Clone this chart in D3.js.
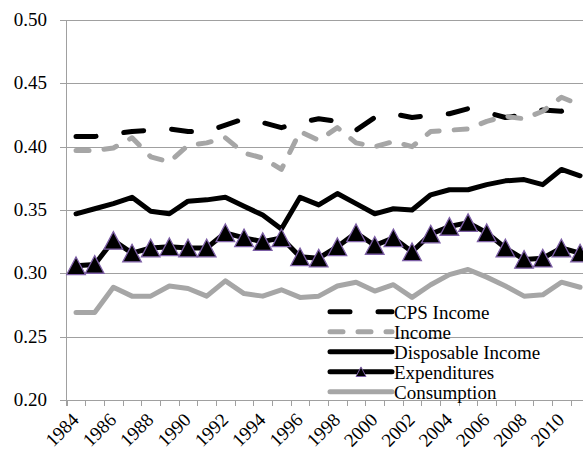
<!DOCTYPE html>
<html>
<head>
<meta charset="utf-8">
<script src="https://cdn.jsdelivr.net/npm/d3@7"></script>
<style>
  html, body { margin: 0; padding: 0; background: #fff; }
  svg { display: block; }
</style>
</head>
<body>
<svg id="chart" width="583" height="453" font-family="'Liberation Serif', 'DejaVu Serif', serif"></svg>
<script>
// Inequality measures by year
const years = d3.range(1984, 2012);
const yTicks = [0.20, 0.25, 0.30, 0.35, 0.40, 0.45, 0.50];
const xLabelYears = d3.range(1984, 2011, 2);

const cpsIncome = [0.408, 0.408, 0.410, 0.412, 0.413, 0.414, 0.412, 0.412, 0.417, 0.422, 0.419, 0.415, 0.419, 0.422, 0.420, 0.413,
                   0.423, 0.426, 0.423, 0.425, 0.426, 0.430, 0.427, 0.423, 0.425, 0.429, 0.428, 0.434];
const income = [0.397, 0.397, 0.399, 0.407, 0.392, 0.388, 0.401, 0.403, 0.407, 0.395, 0.391, 0.382, 0.412, 0.405, 0.415, 0.403,
                0.400, 0.404, 0.400, 0.412, 0.413, 0.414, 0.420, 0.424, 0.422, 0.428, 0.439, 0.433];
const disposableIncome = [0.347, 0.351, 0.355, 0.360, 0.349, 0.347, 0.357, 0.358, 0.360, 0.353, 0.346, 0.335, 0.360, 0.354, 0.363, 0.355,
                          0.347, 0.351, 0.350, 0.362, 0.366, 0.366, 0.370, 0.373, 0.374, 0.370, 0.382, 0.377];
const expenditures = [0.306, 0.307, 0.326, 0.316, 0.320, 0.321, 0.320, 0.320, 0.332, 0.328, 0.325, 0.328, 0.313, 0.312, 0.321, 0.332,
                      0.322, 0.328, 0.317, 0.331, 0.337, 0.340, 0.332, 0.320, 0.311, 0.312, 0.320, 0.316];
const consumption = [0.269, 0.269, 0.289, 0.282, 0.282, 0.290, 0.288, 0.282, 0.294, 0.284, 0.282, 0.287, 0.281, 0.282, 0.290, 0.293,
                     0.286, 0.291, 0.281, 0.291, 0.299, 0.303, 0.297, 0.290, 0.282, 0.283, 0.293, 0.289];

const GRAY = "#a6a6a6";
const GRID = "#a0a0a0";
const PURPLE = "#7d5fa6";
const FONT = "'Liberation Serif', 'DejaVu Serif', serif";

const seriesList = [
  { name: "CPS Income", values: cpsIncome, color: "#000", dash: "20 28" },
  { name: "Income", values: income, color: GRAY, dash: "13 15" },
  { name: "Disposable Income", values: disposableIncome, color: "#000", dash: null },
  { name: "Expenditures", values: expenditures, color: "#000", dash: null, marker: true },
  { name: "Consumption", values: consumption, color: GRAY, dash: null }
];

const svg = d3.select("#chart");
const W = 583;

const x = d3.scaleBand().domain(years).range([66.7, 589.4]);
const y = d3.scaleLinear().domain([0.2, 0.5]).range([400, 20]);
const cx = d => x(d) + x.bandwidth() / 2;

// Horizontal gridlines with outer tick stubs
svg.append("g")
  .selectAll("line")
  .data(yTicks)
  .join("line")
  .attr("x1", 60).attr("x2", W)
  .attr("y1", d => Math.round(y(d)) + 0.5).attr("y2", d => Math.round(y(d)) + 0.5)
  .attr("stroke", GRID).attr("stroke-width", 1);

// Y axis labels
svg.append("g")
  .selectAll("text")
  .data(yTicks)
  .join("text")
  .attr("x", 47).attr("y", d => y(d) + 6)
  .attr("text-anchor", "end")
  .attr("font-family", FONT)
  .attr("font-size", 19)
  .attr("fill", "#000")
  .text(d3.format(".2f"));

// Axis lines
svg.append("line").attr("x1", 66.5).attr("x2", 66.5).attr("y1", y(0.5)).attr("y2", 406)
  .attr("stroke", GRID).attr("stroke-width", 1);
svg.append("g")
  .selectAll("line")
  .data(years)
  .join("line")
  .attr("x1", d => Math.round(x(d)) + 0.5).attr("x2", d => Math.round(x(d)) + 0.5)
  .attr("y1", 400).attr("y2", 406)
  .attr("stroke", GRID).attr("stroke-width", 1);

// X axis labels (every other year, rotated)
svg.append("g")
  .selectAll("text")
  .data(xLabelYears)
  .join("text")
  .attr("transform", d => `translate(${cx(d) + 4},${421}) rotate(-45)`)
  .attr("text-anchor", "end")
  .attr("font-family", FONT)
  .attr("font-size", 19)
  .attr("fill", "#000")
  .text(d => d);

// Series lines
const line = d3.line().x((d, i) => cx(years[i])).y(d => y(d));
const triangle = (px, py, hw, hh) =>
  `M${px},${py - hh}L${px + hw},${py + hh}L${px - hw},${py + hh}Z`;

seriesList.forEach(s => {
  svg.append("path")
    .datum(s.values)
    .attr("d", line)
    .attr("fill", "none")
    .attr("stroke", s.color)
    .attr("stroke-width", 5)
    .attr("stroke-linejoin", "round")
    .attr("stroke-linecap", "round")
    .attr("stroke-dasharray", s.dash);
  if (s.marker) {
    svg.append("g")
      .selectAll("path")
      .data(s.values)
      .join("path")
      .attr("d", (d, i) => triangle(cx(years[i]), y(d), 9.3, 8.8))
      .attr("fill", "#000")
      .attr("stroke", PURPLE)
      .attr("stroke-width", 1.3)
      .attr("stroke-linejoin", "miter");
  }
});

// Legend
const legend = svg.append("g");
const lx0 = 330, lx1 = 392, ltx = 394, ly0 = 311.7, lstep = 20;
seriesList.forEach((s, k) => {
  const ly = ly0 + k * lstep;
  legend.append("line")
    .attr("x1", lx0).attr("x2", lx1).attr("y1", ly).attr("y2", ly)
    .attr("stroke", s.color).attr("stroke-width", 5)
    .attr("stroke-linecap", "round")
    .attr("stroke-dasharray", s.dash);
  if (s.marker) {
    legend.append("path")
      .attr("d", triangle((lx0 + lx1) / 2, ly, 5, 4.8))
      .attr("fill", "#000").attr("stroke", PURPLE).attr("stroke-width", 1);
  }
  legend.append("text")
    .attr("x", ltx).attr("y", ly + 7)
    .attr("font-family", FONT)
    .attr("font-size", 19)
    .attr("fill", "#000")
    .text(s.name);
});
</script>
</body>
</html>
